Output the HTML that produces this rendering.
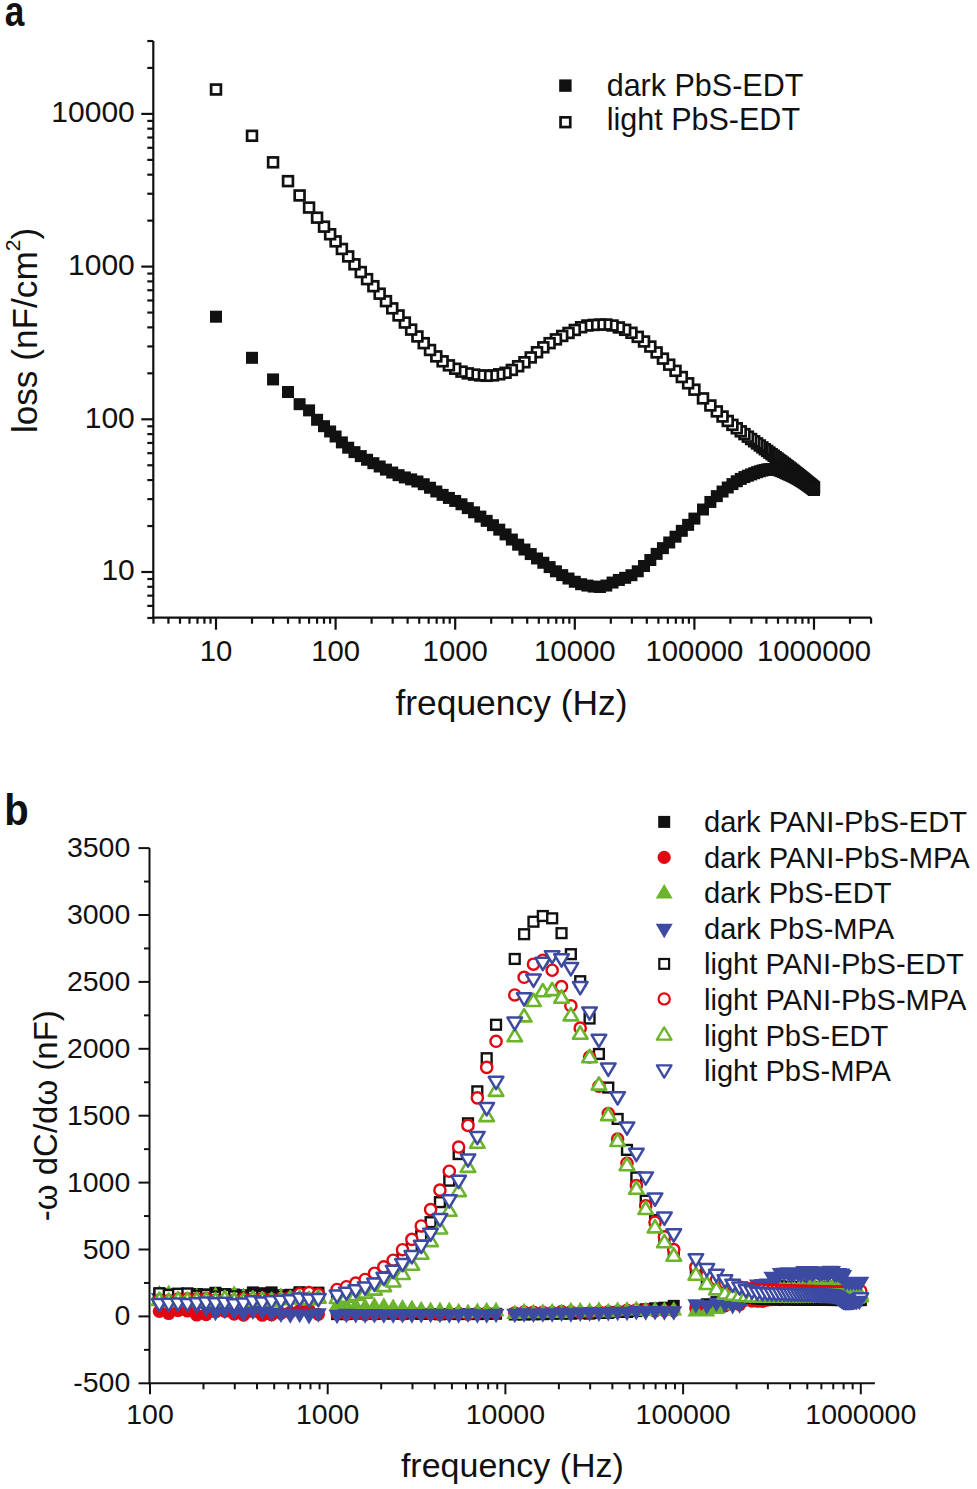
<!DOCTYPE html>
<html><head><meta charset="utf-8"><style>
html,body{margin:0;padding:0;background:#fff;width:977px;height:1489px;overflow:hidden}
svg{display:block}
</style></head><body>
<svg width="977" height="1489" viewBox="0 0 977 1489">
<rect width="977" height="1489" fill="#fff"/>
<g stroke="#111" stroke-width="2.2" fill="none" stroke-linecap="butt">
<path d="M153.3 41.04 V618.8"/>
<path d="M152.2 617.7 H871.06"/>
<path d="M153.3 617.97 H147.3"/>
<path d="M153.3 605.88 H147.3"/>
<path d="M153.3 595.65 H147.3"/>
<path d="M153.3 586.8 H147.3"/>
<path d="M153.3 578.99 H147.3"/>
<path d="M153.3 572 H141.3"/>
<path d="M153.3 526.03 H147.3"/>
<path d="M153.3 499.14 H147.3"/>
<path d="M153.3 480.07 H147.3"/>
<path d="M153.3 465.27 H147.3"/>
<path d="M153.3 453.18 H147.3"/>
<path d="M153.3 442.95 H147.3"/>
<path d="M153.3 434.1 H147.3"/>
<path d="M153.3 426.29 H147.3"/>
<path d="M153.3 419.3 H141.3"/>
<path d="M153.3 373.33 H147.3"/>
<path d="M153.3 346.44 H147.3"/>
<path d="M153.3 327.37 H147.3"/>
<path d="M153.3 312.57 H147.3"/>
<path d="M153.3 300.48 H147.3"/>
<path d="M153.3 290.25 H147.3"/>
<path d="M153.3 281.4 H147.3"/>
<path d="M153.3 273.59 H147.3"/>
<path d="M153.3 266.6 H141.3"/>
<path d="M153.3 220.63 H147.3"/>
<path d="M153.3 193.74 H147.3"/>
<path d="M153.3 174.67 H147.3"/>
<path d="M153.3 159.87 H147.3"/>
<path d="M153.3 147.78 H147.3"/>
<path d="M153.3 137.55 H147.3"/>
<path d="M153.3 128.7 H147.3"/>
<path d="M153.3 120.89 H147.3"/>
<path d="M153.3 113.9 H141.3"/>
<path d="M153.3 67.93 H147.3"/>
<path d="M153.3 41.04 H147.3"/>
<path d="M153.46 617.7 V623.7"/>
<path d="M168.41 617.7 V623.7"/>
<path d="M180 617.7 V623.7"/>
<path d="M189.47 617.7 V623.7"/>
<path d="M197.47 617.7 V623.7"/>
<path d="M204.41 617.7 V623.7"/>
<path d="M210.53 617.7 V623.7"/>
<path d="M216 617.7 V629.7"/>
<path d="M252 617.7 V623.7"/>
<path d="M273.06 617.7 V623.7"/>
<path d="M288.01 617.7 V623.7"/>
<path d="M299.6 617.7 V623.7"/>
<path d="M309.07 617.7 V623.7"/>
<path d="M317.07 617.7 V623.7"/>
<path d="M324.01 617.7 V623.7"/>
<path d="M330.13 617.7 V623.7"/>
<path d="M335.6 617.7 V629.7"/>
<path d="M371.6 617.7 V623.7"/>
<path d="M392.66 617.7 V623.7"/>
<path d="M407.61 617.7 V623.7"/>
<path d="M419.2 617.7 V623.7"/>
<path d="M428.67 617.7 V623.7"/>
<path d="M436.67 617.7 V623.7"/>
<path d="M443.61 617.7 V623.7"/>
<path d="M449.73 617.7 V623.7"/>
<path d="M455.2 617.7 V629.7"/>
<path d="M491.2 617.7 V623.7"/>
<path d="M512.26 617.7 V623.7"/>
<path d="M527.21 617.7 V623.7"/>
<path d="M538.8 617.7 V623.7"/>
<path d="M548.27 617.7 V623.7"/>
<path d="M556.27 617.7 V623.7"/>
<path d="M563.21 617.7 V623.7"/>
<path d="M569.33 617.7 V623.7"/>
<path d="M574.8 617.7 V629.7"/>
<path d="M610.8 617.7 V623.7"/>
<path d="M631.86 617.7 V623.7"/>
<path d="M646.81 617.7 V623.7"/>
<path d="M658.4 617.7 V623.7"/>
<path d="M667.87 617.7 V623.7"/>
<path d="M675.87 617.7 V623.7"/>
<path d="M682.81 617.7 V623.7"/>
<path d="M688.93 617.7 V623.7"/>
<path d="M694.4 617.7 V629.7"/>
<path d="M730.4 617.7 V623.7"/>
<path d="M751.46 617.7 V623.7"/>
<path d="M766.41 617.7 V623.7"/>
<path d="M778 617.7 V623.7"/>
<path d="M787.47 617.7 V623.7"/>
<path d="M795.47 617.7 V623.7"/>
<path d="M802.41 617.7 V623.7"/>
<path d="M808.53 617.7 V623.7"/>
<path d="M814 617.7 V629.7"/>
<path d="M850 617.7 V623.7"/>
<path d="M871.06 617.7 V623.7"/>
</g>
<g font-family='"Liberation Sans", sans-serif' font-size="30" fill="#111">
<text x="134.8" y="580.4" text-anchor="end">10</text>
<text x="134.8" y="427.7" text-anchor="end">100</text>
<text x="134.8" y="275" text-anchor="end">1000</text>
<text x="134.8" y="122.3" text-anchor="end">10000</text>
<text x="216" y="660.5" text-anchor="middle" font-size="29.3">10</text>
<text x="335.6" y="660.5" text-anchor="middle" font-size="29.3">100</text>
<text x="455.2" y="660.5" text-anchor="middle" font-size="29.3">1000</text>
<text x="574.8" y="660.5" text-anchor="middle" font-size="29.3">10000</text>
<text x="694.4" y="660.5" text-anchor="middle" font-size="29.3">100000</text>
<text x="814" y="660.5" text-anchor="middle" font-size="29.3">1000000</text>
</g>
<text x="511.5" y="714.6" text-anchor="middle" font-family='"Liberation Sans", sans-serif' font-size="35.4" fill="#111">frequency (Hz)</text>
<text transform="translate(36.6 330.5) rotate(-90)" text-anchor="middle" font-family='"Liberation Sans", sans-serif' font-size="35.2" fill="#111">loss (nF/cm<tspan font-size="21" dy="-17">2</tspan><tspan dy="17">)</tspan></text>
<text transform="translate(4.7 26.1) scale(0.82 1)" font-family='"Liberation Sans", sans-serif' font-size="43" font-weight="bold" fill="#111">a</text>
<text transform="translate(4.3 824.8) scale(0.89 1)" font-family='"Liberation Sans", sans-serif' font-size="45" font-weight="bold" fill="#111">b</text>
<rect x="559.8" y="80" width="11.2" height="11.2" fill="#111" stroke="#111" stroke-width="1.2"/>
<rect x="560.55" y="117.35" width="9.7" height="9.7" fill="#fff" stroke="#111" stroke-width="2.7"/>
<g font-family='"Liberation Sans", sans-serif' font-size="30.5" fill="#111">
<text x="606.7" y="95.8">dark PbS-EDT</text>
<text x="606.8" y="130.2">light PbS-EDT</text>
</g>
<g stroke="#111" stroke-width="2.0" fill="none">
<path d="M149.5 848.1 V1384.3"/>
<path d="M148.5 1383.3 H874.87"/>
<path d="M149.5 1383.3 H138.5"/>
<path d="M149.5 1349.85 H144"/>
<path d="M149.5 1316.4 H138.5"/>
<path d="M149.5 1282.95 H144"/>
<path d="M149.5 1249.5 H138.5"/>
<path d="M149.5 1216.05 H144"/>
<path d="M149.5 1182.6 H138.5"/>
<path d="M149.5 1149.15 H144"/>
<path d="M149.5 1115.7 H138.5"/>
<path d="M149.5 1082.25 H144"/>
<path d="M149.5 1048.8 H138.5"/>
<path d="M149.5 1015.35 H144"/>
<path d="M149.5 981.9 H138.5"/>
<path d="M149.5 948.45 H144"/>
<path d="M149.5 915 H138.5"/>
<path d="M149.5 881.55 H144"/>
<path d="M149.5 848.1 H138.5"/>
<path d="M150 1383.3 V1394.3"/>
<path d="M203.49 1383.3 V1389.3"/>
<path d="M234.78 1383.3 V1389.3"/>
<path d="M256.99 1383.3 V1389.3"/>
<path d="M274.21 1383.3 V1389.3"/>
<path d="M288.28 1383.3 V1389.3"/>
<path d="M300.17 1383.3 V1389.3"/>
<path d="M310.48 1383.3 V1389.3"/>
<path d="M319.57 1383.3 V1389.3"/>
<path d="M327.7 1383.3 V1394.3"/>
<path d="M381.19 1383.3 V1389.3"/>
<path d="M412.48 1383.3 V1389.3"/>
<path d="M434.69 1383.3 V1389.3"/>
<path d="M451.91 1383.3 V1389.3"/>
<path d="M465.98 1383.3 V1389.3"/>
<path d="M477.87 1383.3 V1389.3"/>
<path d="M488.18 1383.3 V1389.3"/>
<path d="M497.27 1383.3 V1389.3"/>
<path d="M505.4 1383.3 V1394.3"/>
<path d="M558.89 1383.3 V1389.3"/>
<path d="M590.18 1383.3 V1389.3"/>
<path d="M612.39 1383.3 V1389.3"/>
<path d="M629.61 1383.3 V1389.3"/>
<path d="M643.68 1383.3 V1389.3"/>
<path d="M655.57 1383.3 V1389.3"/>
<path d="M665.88 1383.3 V1389.3"/>
<path d="M674.97 1383.3 V1389.3"/>
<path d="M683.1 1383.3 V1394.3"/>
<path d="M736.59 1383.3 V1389.3"/>
<path d="M767.88 1383.3 V1389.3"/>
<path d="M790.09 1383.3 V1389.3"/>
<path d="M807.31 1383.3 V1389.3"/>
<path d="M821.38 1383.3 V1389.3"/>
<path d="M833.27 1383.3 V1389.3"/>
<path d="M843.58 1383.3 V1389.3"/>
<path d="M852.67 1383.3 V1389.3"/>
<path d="M860.8 1383.3 V1394.3"/>
</g>
<g font-family='"Liberation Sans", sans-serif' font-size="28.5" fill="#111">
<text x="130.3" y="1392.3" text-anchor="end">-500</text>
<text x="130.3" y="1325.4" text-anchor="end">0</text>
<text x="130.3" y="1258.5" text-anchor="end">500</text>
<text x="130.3" y="1191.6" text-anchor="end">1000</text>
<text x="130.3" y="1124.7" text-anchor="end">1500</text>
<text x="130.3" y="1057.8" text-anchor="end">2000</text>
<text x="130.3" y="990.9" text-anchor="end">2500</text>
<text x="130.3" y="924" text-anchor="end">3000</text>
<text x="130.3" y="857.1" text-anchor="end">3500</text>
<text x="150" y="1424.3" text-anchor="middle">100</text>
<text x="327.7" y="1424.3" text-anchor="middle">1000</text>
<text x="505.4" y="1424.3" text-anchor="middle">10000</text>
<text x="683.1" y="1424.3" text-anchor="middle">100000</text>
<text x="860.8" y="1424.3" text-anchor="middle">1000000</text>
</g>
<text x="512.4" y="1476.7" text-anchor="middle" font-family='"Liberation Sans", sans-serif' font-size="34" fill="#111">frequency (Hz)</text>
<text transform="translate(56.5 1115.7) rotate(-90)" text-anchor="middle" font-family='"Liberation Sans", sans-serif' font-size="33" fill="#111">-ω dC/dω (nF)</text>
<g fill="#fff" stroke="#111" stroke-width="2.7">
<rect x="809.10" y="482.60" width="9.8" height="9.8"/>
<rect x="808.16" y="481.81" width="9.8" height="9.8"/>
<rect x="807.20" y="481.01" width="9.8" height="9.8"/>
<rect x="806.22" y="480.19" width="9.8" height="9.8"/>
<rect x="805.22" y="479.36" width="9.8" height="9.8"/>
<rect x="804.20" y="478.52" width="9.8" height="9.8"/>
<rect x="803.16" y="477.66" width="9.8" height="9.8"/>
<rect x="802.10" y="476.79" width="9.8" height="9.8"/>
<rect x="801.02" y="475.90" width="9.8" height="9.8"/>
<rect x="799.92" y="475.00" width="9.8" height="9.8"/>
<rect x="798.79" y="474.08" width="9.8" height="9.8"/>
<rect x="797.64" y="473.14" width="9.8" height="9.8"/>
<rect x="796.46" y="472.18" width="9.8" height="9.8"/>
<rect x="795.25" y="471.20" width="9.8" height="9.8"/>
<rect x="794.02" y="470.21" width="9.8" height="9.8"/>
<rect x="792.75" y="469.19" width="9.8" height="9.8"/>
<rect x="791.46" y="468.16" width="9.8" height="9.8"/>
<rect x="790.13" y="467.10" width="9.8" height="9.8"/>
<rect x="788.76" y="466.02" width="9.8" height="9.8"/>
<rect x="787.36" y="464.91" width="9.8" height="9.8"/>
<rect x="785.92" y="463.78" width="9.8" height="9.8"/>
<rect x="784.44" y="462.63" width="9.8" height="9.8"/>
<rect x="782.91" y="461.45" width="9.8" height="9.8"/>
<rect x="781.34" y="460.24" width="9.8" height="9.8"/>
<rect x="779.72" y="459.00" width="9.8" height="9.8"/>
<rect x="778.05" y="457.74" width="9.8" height="9.8"/>
<rect x="776.32" y="456.44" width="9.8" height="9.8"/>
<rect x="774.53" y="455.10" width="9.8" height="9.8"/>
<rect x="772.68" y="453.72" width="9.8" height="9.8"/>
<rect x="770.76" y="452.30" width="9.8" height="9.8"/>
<rect x="768.77" y="450.83" width="9.8" height="9.8"/>
<rect x="766.69" y="449.30" width="9.8" height="9.8"/>
<rect x="764.53" y="447.72" width="9.8" height="9.8"/>
<rect x="762.28" y="446.06" width="9.8" height="9.8"/>
<rect x="759.92" y="444.32" width="9.8" height="9.8"/>
<rect x="757.46" y="442.50" width="9.8" height="9.8"/>
<rect x="754.87" y="440.57" width="9.8" height="9.8"/>
<rect x="752.14" y="438.53" width="9.8" height="9.8"/>
<rect x="749.26" y="436.39" width="9.8" height="9.8"/>
<rect x="746.22" y="434.14" width="9.8" height="9.8"/>
<rect x="742.98" y="431.76" width="9.8" height="9.8"/>
<rect x="739.53" y="429.21" width="9.8" height="9.8"/>
<rect x="735.83" y="426.44" width="9.8" height="9.8"/>
<rect x="731.85" y="423.38" width="9.8" height="9.8"/>
<rect x="727.54" y="419.96" width="9.8" height="9.8"/>
<rect x="722.84" y="416.06" width="9.8" height="9.8"/>
<rect x="717.67" y="411.62" width="9.8" height="9.8"/>
<rect x="711.93" y="406.51" width="9.8" height="9.8"/>
<rect x="705.47" y="400.58" width="9.8" height="9.8"/>
<rect x="698.10" y="393.49" width="9.8" height="9.8"/>
<rect x="689.50" y="384.78" width="9.8" height="9.8"/>
<rect x="683.21" y="378.40" width="9.8" height="9.8"/>
<rect x="676.91" y="372.15" width="9.8" height="9.8"/>
<rect x="670.62" y="365.94" width="9.8" height="9.8"/>
<rect x="664.32" y="359.79" width="9.8" height="9.8"/>
<rect x="658.03" y="353.72" width="9.8" height="9.8"/>
<rect x="651.73" y="347.53" width="9.8" height="9.8"/>
<rect x="645.44" y="341.66" width="9.8" height="9.8"/>
<rect x="639.14" y="336.61" width="9.8" height="9.8"/>
<rect x="632.85" y="331.94" width="9.8" height="9.8"/>
<rect x="626.55" y="327.87" width="9.8" height="9.8"/>
<rect x="620.26" y="324.92" width="9.8" height="9.8"/>
<rect x="613.96" y="322.55" width="9.8" height="9.8"/>
<rect x="607.67" y="320.61" width="9.8" height="9.8"/>
<rect x="601.37" y="319.63" width="9.8" height="9.8"/>
<rect x="595.08" y="319.69" width="9.8" height="9.8"/>
<rect x="588.78" y="320.03" width="9.8" height="9.8"/>
<rect x="582.49" y="320.60" width="9.8" height="9.8"/>
<rect x="576.19" y="322.33" width="9.8" height="9.8"/>
<rect x="569.90" y="325.04" width="9.8" height="9.8"/>
<rect x="563.61" y="328.03" width="9.8" height="9.8"/>
<rect x="557.31" y="331.05" width="9.8" height="9.8"/>
<rect x="551.02" y="334.49" width="9.8" height="9.8"/>
<rect x="544.72" y="338.26" width="9.8" height="9.8"/>
<rect x="538.43" y="342.41" width="9.8" height="9.8"/>
<rect x="532.13" y="347.33" width="9.8" height="9.8"/>
<rect x="525.84" y="352.53" width="9.8" height="9.8"/>
<rect x="519.54" y="357.36" width="9.8" height="9.8"/>
<rect x="513.25" y="361.33" width="9.8" height="9.8"/>
<rect x="506.95" y="365.02" width="9.8" height="9.8"/>
<rect x="500.66" y="367.88" width="9.8" height="9.8"/>
<rect x="494.36" y="369.40" width="9.8" height="9.8"/>
<rect x="488.07" y="370.49" width="9.8" height="9.8"/>
<rect x="481.77" y="370.90" width="9.8" height="9.8"/>
<rect x="475.48" y="370.54" width="9.8" height="9.8"/>
<rect x="469.18" y="369.67" width="9.8" height="9.8"/>
<rect x="462.89" y="368.47" width="9.8" height="9.8"/>
<rect x="456.59" y="366.73" width="9.8" height="9.8"/>
<rect x="450.30" y="363.82" width="9.8" height="9.8"/>
<rect x="444.01" y="360.45" width="9.8" height="9.8"/>
<rect x="437.71" y="356.41" width="9.8" height="9.8"/>
<rect x="431.42" y="351.50" width="9.8" height="9.8"/>
<rect x="425.12" y="345.10" width="9.8" height="9.8"/>
<rect x="418.83" y="338.27" width="9.8" height="9.8"/>
<rect x="412.53" y="331.56" width="9.8" height="9.8"/>
<rect x="406.24" y="324.71" width="9.8" height="9.8"/>
<rect x="399.94" y="317.66" width="9.8" height="9.8"/>
<rect x="393.65" y="310.53" width="9.8" height="9.8"/>
<rect x="387.35" y="303.44" width="9.8" height="9.8"/>
<rect x="381.06" y="296.25" width="9.8" height="9.8"/>
<rect x="374.76" y="288.78" width="9.8" height="9.8"/>
<rect x="368.47" y="281.31" width="9.8" height="9.8"/>
<rect x="362.17" y="274.25" width="9.8" height="9.8"/>
<rect x="355.88" y="267.15" width="9.8" height="9.8"/>
<rect x="349.58" y="259.42" width="9.8" height="9.8"/>
<rect x="343.29" y="251.53" width="9.8" height="9.8"/>
<rect x="336.99" y="244.05" width="9.8" height="9.8"/>
<rect x="330.70" y="236.47" width="9.8" height="9.8"/>
<rect x="325.23" y="229.35" width="9.8" height="9.8"/>
<rect x="319.11" y="221.77" width="9.8" height="9.8"/>
<rect x="312.17" y="212.75" width="9.8" height="9.8"/>
<rect x="304.17" y="202.66" width="9.8" height="9.8"/>
<rect x="294.70" y="190.55" width="9.8" height="9.8"/>
<rect x="283.11" y="176.23" width="9.8" height="9.8"/>
<rect x="268.16" y="157.43" width="9.8" height="9.8"/>
<rect x="247.10" y="130.89" width="9.8" height="9.8"/>
<rect x="211.10" y="84.60" width="9.8" height="9.8"/>
</g>
<g fill="#111">
<rect x="210.00" y="310.70" width="12" height="12"/>
<rect x="246.00" y="351.81" width="12" height="12"/>
<rect x="267.06" y="373.42" width="12" height="12"/>
<rect x="282.01" y="386.00" width="12" height="12"/>
<rect x="293.60" y="398.17" width="12" height="12"/>
<rect x="303.07" y="404.37" width="12" height="12"/>
<rect x="311.07" y="413.78" width="12" height="12"/>
<rect x="318.01" y="420.19" width="12" height="12"/>
<rect x="324.13" y="425.46" width="12" height="12"/>
<rect x="329.60" y="430.51" width="12" height="12"/>
<rect x="335.89" y="436.40" width="12" height="12"/>
<rect x="342.19" y="441.70" width="12" height="12"/>
<rect x="348.48" y="446.12" width="12" height="12"/>
<rect x="354.78" y="450.11" width="12" height="12"/>
<rect x="361.07" y="453.76" width="12" height="12"/>
<rect x="367.37" y="457.20" width="12" height="12"/>
<rect x="373.66" y="460.49" width="12" height="12"/>
<rect x="379.96" y="463.61" width="12" height="12"/>
<rect x="386.25" y="466.53" width="12" height="12"/>
<rect x="392.55" y="469.18" width="12" height="12"/>
<rect x="398.84" y="471.45" width="12" height="12"/>
<rect x="405.14" y="473.39" width="12" height="12"/>
<rect x="411.43" y="475.49" width="12" height="12"/>
<rect x="417.73" y="478.24" width="12" height="12"/>
<rect x="424.02" y="481.75" width="12" height="12"/>
<rect x="430.32" y="485.48" width="12" height="12"/>
<rect x="436.61" y="488.88" width="12" height="12"/>
<rect x="442.91" y="491.92" width="12" height="12"/>
<rect x="449.20" y="494.94" width="12" height="12"/>
<rect x="455.49" y="498.28" width="12" height="12"/>
<rect x="461.79" y="502.13" width="12" height="12"/>
<rect x="468.08" y="506.32" width="12" height="12"/>
<rect x="474.38" y="510.61" width="12" height="12"/>
<rect x="480.67" y="514.86" width="12" height="12"/>
<rect x="486.97" y="519.18" width="12" height="12"/>
<rect x="493.26" y="523.66" width="12" height="12"/>
<rect x="499.56" y="528.42" width="12" height="12"/>
<rect x="505.85" y="533.54" width="12" height="12"/>
<rect x="512.15" y="538.69" width="12" height="12"/>
<rect x="518.44" y="543.52" width="12" height="12"/>
<rect x="524.74" y="548.07" width="12" height="12"/>
<rect x="531.03" y="552.47" width="12" height="12"/>
<rect x="537.33" y="556.76" width="12" height="12"/>
<rect x="543.62" y="561.09" width="12" height="12"/>
<rect x="549.92" y="565.31" width="12" height="12"/>
<rect x="556.21" y="569.11" width="12" height="12"/>
<rect x="562.51" y="572.52" width="12" height="12"/>
<rect x="568.80" y="575.76" width="12" height="12"/>
<rect x="575.09" y="578.23" width="12" height="12"/>
<rect x="581.39" y="579.59" width="12" height="12"/>
<rect x="587.68" y="580.58" width="12" height="12"/>
<rect x="593.98" y="581.00" width="12" height="12"/>
<rect x="600.27" y="579.57" width="12" height="12"/>
<rect x="606.57" y="576.55" width="12" height="12"/>
<rect x="612.86" y="573.95" width="12" height="12"/>
<rect x="619.16" y="571.82" width="12" height="12"/>
<rect x="625.45" y="569.22" width="12" height="12"/>
<rect x="631.75" y="565.28" width="12" height="12"/>
<rect x="638.04" y="560.00" width="12" height="12"/>
<rect x="644.34" y="554.01" width="12" height="12"/>
<rect x="650.63" y="547.89" width="12" height="12"/>
<rect x="656.93" y="542.15" width="12" height="12"/>
<rect x="663.22" y="536.47" width="12" height="12"/>
<rect x="669.52" y="530.69" width="12" height="12"/>
<rect x="675.81" y="524.82" width="12" height="12"/>
<rect x="682.11" y="518.86" width="12" height="12"/>
<rect x="688.40" y="512.59" width="12" height="12"/>
<rect x="697.00" y="503.51" width="12" height="12"/>
<rect x="704.37" y="495.96" width="12" height="12"/>
<rect x="710.83" y="490.13" width="12" height="12"/>
<rect x="716.57" y="485.53" width="12" height="12"/>
<rect x="721.74" y="481.51" width="12" height="12"/>
<rect x="726.44" y="478.09" width="12" height="12"/>
<rect x="730.75" y="475.23" width="12" height="12"/>
<rect x="734.73" y="472.90" width="12" height="12"/>
<rect x="738.43" y="471.08" width="12" height="12"/>
<rect x="741.88" y="469.68" width="12" height="12"/>
<rect x="745.12" y="468.40" width="12" height="12"/>
<rect x="748.16" y="467.22" width="12" height="12"/>
<rect x="751.04" y="466.16" width="12" height="12"/>
<rect x="753.77" y="465.26" width="12" height="12"/>
<rect x="756.36" y="464.51" width="12" height="12"/>
<rect x="758.82" y="463.92" width="12" height="12"/>
<rect x="761.18" y="463.49" width="12" height="12"/>
<rect x="763.43" y="463.22" width="12" height="12"/>
<rect x="765.59" y="463.10" width="12" height="12"/>
<rect x="767.67" y="463.18" width="12" height="12"/>
<rect x="769.66" y="463.48" width="12" height="12"/>
<rect x="771.58" y="463.96" width="12" height="12"/>
<rect x="773.43" y="464.57" width="12" height="12"/>
<rect x="775.22" y="465.25" width="12" height="12"/>
<rect x="776.95" y="465.97" width="12" height="12"/>
<rect x="778.62" y="466.71" width="12" height="12"/>
<rect x="780.24" y="467.45" width="12" height="12"/>
<rect x="781.81" y="468.15" width="12" height="12"/>
<rect x="783.34" y="468.82" width="12" height="12"/>
<rect x="784.82" y="469.46" width="12" height="12"/>
<rect x="786.26" y="470.13" width="12" height="12"/>
<rect x="787.66" y="470.81" width="12" height="12"/>
<rect x="789.03" y="471.50" width="12" height="12"/>
<rect x="790.36" y="472.21" width="12" height="12"/>
<rect x="791.65" y="472.92" width="12" height="12"/>
<rect x="792.92" y="473.65" width="12" height="12"/>
<rect x="794.15" y="474.38" width="12" height="12"/>
<rect x="795.36" y="475.11" width="12" height="12"/>
<rect x="796.54" y="475.85" width="12" height="12"/>
<rect x="797.69" y="476.59" width="12" height="12"/>
<rect x="798.82" y="477.33" width="12" height="12"/>
<rect x="799.92" y="478.08" width="12" height="12"/>
<rect x="801.00" y="478.82" width="12" height="12"/>
<rect x="802.06" y="479.57" width="12" height="12"/>
<rect x="803.10" y="480.31" width="12" height="12"/>
<rect x="804.12" y="481.05" width="12" height="12"/>
<rect x="805.12" y="481.79" width="12" height="12"/>
<rect x="806.10" y="482.53" width="12" height="12"/>
<rect x="807.06" y="483.27" width="12" height="12"/>
<rect x="808.00" y="484.00" width="12" height="12"/>
</g>
<g fill="#111111">
<rect x="153.35" y="1287.81" width="12" height="12"/>
<rect x="162.71" y="1288.24" width="12" height="12"/>
<rect x="172.06" y="1289.70" width="12" height="12"/>
<rect x="181.41" y="1287.86" width="12" height="12"/>
<rect x="190.76" y="1288.03" width="12" height="12"/>
<rect x="200.12" y="1288.35" width="12" height="12"/>
<rect x="209.47" y="1286.74" width="12" height="12"/>
<rect x="218.82" y="1288.05" width="12" height="12"/>
<rect x="228.17" y="1288.52" width="12" height="12"/>
<rect x="237.53" y="1289.17" width="12" height="12"/>
<rect x="246.88" y="1286.38" width="12" height="12"/>
<rect x="256.23" y="1287.21" width="12" height="12"/>
<rect x="265.58" y="1286.36" width="12" height="12"/>
<rect x="274.94" y="1289.24" width="12" height="12"/>
<rect x="284.29" y="1288.77" width="12" height="12"/>
<rect x="293.64" y="1286.17" width="12" height="12"/>
<rect x="302.99" y="1289.93" width="12" height="12"/>
<rect x="312.35" y="1289.86" width="12" height="12"/>
<rect x="331.05" y="1308.15" width="12" height="12"/>
<rect x="340.41" y="1308.12" width="12" height="12"/>
<rect x="349.76" y="1307.66" width="12" height="12"/>
<rect x="359.11" y="1307.52" width="12" height="12"/>
<rect x="368.46" y="1308.03" width="12" height="12"/>
<rect x="377.82" y="1307.56" width="12" height="12"/>
<rect x="387.17" y="1307.69" width="12" height="12"/>
<rect x="396.52" y="1307.74" width="12" height="12"/>
<rect x="405.87" y="1307.53" width="12" height="12"/>
<rect x="415.23" y="1307.96" width="12" height="12"/>
<rect x="424.58" y="1307.94" width="12" height="12"/>
<rect x="433.93" y="1308.34" width="12" height="12"/>
<rect x="443.28" y="1308.02" width="12" height="12"/>
<rect x="452.64" y="1308.14" width="12" height="12"/>
<rect x="461.99" y="1308.00" width="12" height="12"/>
<rect x="471.34" y="1308.16" width="12" height="12"/>
<rect x="480.69" y="1307.96" width="12" height="12"/>
<rect x="490.05" y="1307.78" width="12" height="12"/>
<rect x="508.75" y="1308.50" width="12" height="12"/>
<rect x="518.11" y="1308.50" width="12" height="12"/>
<rect x="527.46" y="1308.34" width="12" height="12"/>
<rect x="536.81" y="1308.21" width="12" height="12"/>
<rect x="546.16" y="1307.82" width="12" height="12"/>
<rect x="555.52" y="1307.73" width="12" height="12"/>
<rect x="564.87" y="1307.70" width="12" height="12"/>
<rect x="574.22" y="1307.28" width="12" height="12"/>
<rect x="583.57" y="1307.67" width="12" height="12"/>
<rect x="592.93" y="1306.93" width="12" height="12"/>
<rect x="602.28" y="1306.94" width="12" height="12"/>
<rect x="611.63" y="1306.01" width="12" height="12"/>
<rect x="620.98" y="1306.02" width="12" height="12"/>
<rect x="630.34" y="1305.11" width="12" height="12"/>
<rect x="639.69" y="1303.25" width="12" height="12"/>
<rect x="649.04" y="1302.28" width="12" height="12"/>
<rect x="658.39" y="1301.68" width="12" height="12"/>
<rect x="667.75" y="1299.86" width="12" height="12"/>
<rect x="689.87" y="1300.92" width="12" height="12"/>
<rect x="700.83" y="1298.22" width="12" height="12"/>
<rect x="710.42" y="1296.09" width="12" height="12"/>
<rect x="718.95" y="1297.25" width="12" height="12"/>
<rect x="726.63" y="1296.55" width="12" height="12"/>
<rect x="733.62" y="1291.87" width="12" height="12"/>
<rect x="740.03" y="1288.10" width="12" height="12"/>
<rect x="745.94" y="1286.47" width="12" height="12"/>
<rect x="751.43" y="1286.14" width="12" height="12"/>
<rect x="756.56" y="1283.32" width="12" height="12"/>
<rect x="761.37" y="1280.47" width="12" height="12"/>
<rect x="765.89" y="1280.99" width="12" height="12"/>
<rect x="770.17" y="1280.40" width="12" height="12"/>
<rect x="774.22" y="1280.24" width="12" height="12"/>
<rect x="778.07" y="1283.19" width="12" height="12"/>
<rect x="781.74" y="1280.71" width="12" height="12"/>
<rect x="785.24" y="1282.24" width="12" height="12"/>
<rect x="788.58" y="1281.79" width="12" height="12"/>
<rect x="791.79" y="1280.76" width="12" height="12"/>
<rect x="794.87" y="1282.93" width="12" height="12"/>
<rect x="797.83" y="1280.52" width="12" height="12"/>
<rect x="800.69" y="1282.57" width="12" height="12"/>
<rect x="803.44" y="1280.47" width="12" height="12"/>
<rect x="806.09" y="1281.68" width="12" height="12"/>
<rect x="808.66" y="1280.85" width="12" height="12"/>
<rect x="811.15" y="1281.08" width="12" height="12"/>
<rect x="813.56" y="1283.88" width="12" height="12"/>
<rect x="815.89" y="1283.21" width="12" height="12"/>
<rect x="818.16" y="1281.22" width="12" height="12"/>
<rect x="820.36" y="1283.54" width="12" height="12"/>
<rect x="822.50" y="1280.84" width="12" height="12"/>
<rect x="824.58" y="1281.58" width="12" height="12"/>
<rect x="826.61" y="1283.42" width="12" height="12"/>
<rect x="828.59" y="1282.57" width="12" height="12"/>
<rect x="830.51" y="1280.40" width="12" height="12"/>
<rect x="832.39" y="1283.96" width="12" height="12"/>
<rect x="834.23" y="1280.85" width="12" height="12"/>
<rect x="836.02" y="1281.03" width="12" height="12"/>
<rect x="837.77" y="1283.09" width="12" height="12"/>
<rect x="839.48" y="1281.33" width="12" height="12"/>
<rect x="841.16" y="1281.47" width="12" height="12"/>
<rect x="842.80" y="1281.13" width="12" height="12"/>
<rect x="844.41" y="1281.96" width="12" height="12"/>
<rect x="845.98" y="1284.84" width="12" height="12"/>
<rect x="847.52" y="1284.49" width="12" height="12"/>
<rect x="849.03" y="1286.98" width="12" height="12"/>
<rect x="850.52" y="1287.12" width="12" height="12"/>
<rect x="851.97" y="1288.48" width="12" height="12"/>
<rect x="853.40" y="1291.46" width="12" height="12"/>
<rect x="854.80" y="1290.41" width="12" height="12"/>
</g>
<g fill="#e1060f">
<circle cx="159.35" cy="1311.40" r="6.6"/>
<circle cx="168.71" cy="1313.50" r="6.6"/>
<circle cx="178.06" cy="1310.68" r="6.6"/>
<circle cx="187.41" cy="1311.00" r="6.6"/>
<circle cx="196.76" cy="1315.02" r="6.6"/>
<circle cx="206.12" cy="1314.59" r="6.6"/>
<circle cx="215.47" cy="1311.75" r="6.6"/>
<circle cx="224.82" cy="1311.45" r="6.6"/>
<circle cx="234.17" cy="1314.20" r="6.6"/>
<circle cx="243.53" cy="1315.20" r="6.6"/>
<circle cx="252.88" cy="1311.48" r="6.6"/>
<circle cx="262.23" cy="1315.25" r="6.6"/>
<circle cx="271.58" cy="1314.85" r="6.6"/>
<circle cx="280.94" cy="1313.35" r="6.6"/>
<circle cx="290.29" cy="1312.27" r="6.6"/>
<circle cx="299.64" cy="1310.48" r="6.6"/>
<circle cx="308.99" cy="1309.92" r="6.6"/>
<circle cx="318.35" cy="1314.30" r="6.6"/>
<circle cx="337.05" cy="1313.47" r="6.6"/>
<circle cx="346.41" cy="1314.38" r="6.6"/>
<circle cx="355.76" cy="1313.46" r="6.6"/>
<circle cx="365.11" cy="1314.56" r="6.6"/>
<circle cx="374.46" cy="1314.08" r="6.6"/>
<circle cx="383.82" cy="1313.44" r="6.6"/>
<circle cx="393.17" cy="1313.18" r="6.6"/>
<circle cx="402.52" cy="1314.24" r="6.6"/>
<circle cx="411.87" cy="1312.91" r="6.6"/>
<circle cx="421.23" cy="1313.20" r="6.6"/>
<circle cx="430.58" cy="1313.84" r="6.6"/>
<circle cx="439.93" cy="1314.40" r="6.6"/>
<circle cx="449.28" cy="1313.89" r="6.6"/>
<circle cx="458.64" cy="1313.20" r="6.6"/>
<circle cx="467.99" cy="1314.44" r="6.6"/>
<circle cx="477.34" cy="1312.99" r="6.6"/>
<circle cx="486.69" cy="1312.59" r="6.6"/>
<circle cx="496.05" cy="1313.06" r="6.6"/>
<circle cx="514.75" cy="1312.88" r="6.6"/>
<circle cx="524.11" cy="1311.93" r="6.6"/>
<circle cx="533.46" cy="1311.99" r="6.6"/>
<circle cx="542.81" cy="1312.19" r="6.6"/>
<circle cx="552.16" cy="1312.42" r="6.6"/>
<circle cx="561.52" cy="1311.37" r="6.6"/>
<circle cx="570.87" cy="1311.65" r="6.6"/>
<circle cx="580.22" cy="1312.53" r="6.6"/>
<circle cx="589.57" cy="1312.54" r="6.6"/>
<circle cx="598.93" cy="1311.71" r="6.6"/>
<circle cx="608.28" cy="1311.60" r="6.6"/>
<circle cx="617.63" cy="1311.21" r="6.6"/>
<circle cx="626.98" cy="1310.15" r="6.6"/>
<circle cx="636.34" cy="1309.76" r="6.6"/>
<circle cx="645.69" cy="1309.55" r="6.6"/>
<circle cx="655.04" cy="1311.16" r="6.6"/>
<circle cx="664.39" cy="1310.56" r="6.6"/>
<circle cx="673.75" cy="1310.91" r="6.6"/>
<circle cx="695.87" cy="1308.07" r="6.6"/>
<circle cx="706.83" cy="1308.53" r="6.6"/>
<circle cx="716.42" cy="1306.22" r="6.6"/>
<circle cx="724.95" cy="1305.78" r="6.6"/>
<circle cx="732.63" cy="1302.91" r="6.6"/>
<circle cx="739.62" cy="1304.59" r="6.6"/>
<circle cx="746.03" cy="1300.00" r="6.6"/>
<circle cx="751.94" cy="1301.12" r="6.6"/>
<circle cx="757.43" cy="1301.23" r="6.6"/>
<circle cx="762.56" cy="1301.32" r="6.6"/>
<circle cx="767.37" cy="1300.16" r="6.6"/>
<circle cx="771.89" cy="1299.54" r="6.6"/>
<circle cx="776.17" cy="1299.46" r="6.6"/>
<circle cx="780.22" cy="1299.53" r="6.6"/>
<circle cx="784.07" cy="1296.89" r="6.6"/>
<circle cx="787.74" cy="1297.86" r="6.6"/>
<circle cx="791.24" cy="1298.38" r="6.6"/>
<circle cx="794.58" cy="1297.94" r="6.6"/>
<circle cx="797.79" cy="1295.82" r="6.6"/>
<circle cx="800.87" cy="1297.03" r="6.6"/>
<circle cx="803.83" cy="1297.06" r="6.6"/>
<circle cx="806.69" cy="1295.65" r="6.6"/>
<circle cx="809.44" cy="1295.62" r="6.6"/>
<circle cx="812.09" cy="1294.42" r="6.6"/>
<circle cx="814.66" cy="1295.02" r="6.6"/>
<circle cx="817.15" cy="1294.92" r="6.6"/>
<circle cx="819.56" cy="1292.62" r="6.6"/>
<circle cx="821.89" cy="1294.68" r="6.6"/>
<circle cx="824.16" cy="1295.93" r="6.6"/>
<circle cx="826.36" cy="1295.31" r="6.6"/>
<circle cx="828.50" cy="1294.56" r="6.6"/>
<circle cx="830.58" cy="1293.06" r="6.6"/>
<circle cx="832.61" cy="1294.31" r="6.6"/>
<circle cx="834.59" cy="1293.57" r="6.6"/>
<circle cx="836.51" cy="1292.89" r="6.6"/>
<circle cx="838.39" cy="1294.37" r="6.6"/>
<circle cx="840.23" cy="1291.24" r="6.6"/>
<circle cx="842.02" cy="1293.81" r="6.6"/>
<circle cx="843.77" cy="1290.83" r="6.6"/>
<circle cx="845.48" cy="1293.03" r="6.6"/>
<circle cx="847.16" cy="1292.46" r="6.6"/>
<circle cx="848.80" cy="1291.38" r="6.6"/>
<circle cx="850.41" cy="1293.18" r="6.6"/>
<circle cx="851.98" cy="1292.30" r="6.6"/>
<circle cx="853.52" cy="1292.70" r="6.6"/>
<circle cx="855.03" cy="1293.87" r="6.6"/>
<circle cx="856.52" cy="1291.15" r="6.6"/>
<circle cx="857.97" cy="1290.12" r="6.6"/>
<circle cx="859.40" cy="1291.22" r="6.6"/>
<circle cx="860.80" cy="1292.69" r="6.6"/>
</g>
<path fill="#6cb42c" d="M159.35 1284.78L167.85 1299.28L150.85 1299.28ZM168.71 1284.51L177.21 1299.01L160.21 1299.01ZM178.06 1291.93L186.56 1306.43L169.56 1306.43ZM187.41 1289.53L195.91 1304.03L178.91 1304.03ZM196.76 1287.41L205.26 1301.91L188.26 1301.91ZM206.12 1291.96L214.62 1306.46L197.62 1306.46ZM215.47 1286.37L223.97 1300.87L206.97 1300.87ZM224.82 1289.82L233.32 1304.32L216.32 1304.32ZM234.17 1285.21L242.67 1299.71L225.67 1299.71ZM243.53 1287.59L252.03 1302.09L235.03 1302.09ZM252.88 1291.40L261.38 1305.90L244.38 1305.90ZM262.23 1292.54L270.73 1307.04L253.73 1307.04ZM271.58 1292.26L280.08 1306.76L263.08 1306.76ZM280.94 1287.36L289.44 1301.86L272.44 1301.86ZM290.29 1289.41L298.79 1303.91L281.79 1303.91ZM299.64 1286.80L308.14 1301.30L291.14 1301.30ZM308.99 1285.06L317.49 1299.56L300.49 1299.56ZM318.35 1288.72L326.85 1303.22L309.85 1303.22ZM337.05 1296.46L345.55 1310.96L328.55 1310.96ZM346.41 1296.83L354.91 1311.33L337.91 1311.33ZM355.76 1296.96L364.26 1311.46L347.26 1311.46ZM365.11 1297.87L373.61 1312.37L356.61 1312.37ZM374.46 1297.01L382.96 1311.51L365.96 1311.51ZM383.82 1297.32L392.32 1311.82L375.32 1311.82ZM393.17 1298.55L401.67 1313.05L384.67 1313.05ZM402.52 1298.97L411.02 1313.47L394.02 1313.47ZM411.87 1299.60L420.37 1314.10L403.37 1314.10ZM421.23 1300.65L429.73 1315.15L412.73 1315.15ZM430.58 1301.52L439.08 1316.02L422.08 1316.02ZM439.93 1301.59L448.43 1316.09L431.43 1316.09ZM449.28 1301.54L457.78 1316.04L440.78 1316.04ZM458.64 1302.86L467.14 1317.36L450.14 1317.36ZM467.99 1303.39L476.49 1317.89L459.49 1317.89ZM477.34 1302.51L485.84 1317.01L468.84 1317.01ZM486.69 1301.86L495.19 1316.36L478.19 1316.36ZM496.05 1301.81L504.55 1316.31L487.55 1316.31ZM514.75 1304.48L523.25 1318.98L506.25 1318.98ZM524.11 1302.64L532.61 1317.14L515.61 1317.14ZM533.46 1303.80L541.96 1318.30L524.96 1318.30ZM542.81 1303.35L551.31 1317.85L534.31 1317.85ZM552.16 1302.65L560.66 1317.15L543.66 1317.15ZM561.52 1303.44L570.02 1317.94L553.02 1317.94ZM570.87 1301.72L579.37 1316.22L562.37 1316.22ZM580.22 1301.77L588.72 1316.27L571.72 1316.27ZM589.57 1302.23L598.07 1316.73L581.07 1316.73ZM598.93 1301.20L607.43 1315.70L590.43 1315.70ZM608.28 1302.63L616.78 1317.13L599.78 1317.13ZM617.63 1301.27L626.13 1315.77L609.13 1315.77ZM626.98 1300.90L635.48 1315.40L618.48 1315.40ZM636.34 1300.54L644.84 1315.04L627.84 1315.04ZM645.69 1301.52L654.19 1316.02L637.19 1316.02ZM655.04 1300.98L663.54 1315.48L646.54 1315.48ZM664.39 1301.17L672.89 1315.67L655.89 1315.67ZM673.75 1301.05L682.25 1315.55L665.25 1315.55ZM695.87 1301.98L704.37 1316.48L687.37 1316.48ZM706.83 1301.95L715.33 1316.45L698.33 1316.45ZM716.42 1299.42L724.92 1313.92L707.92 1313.92ZM724.95 1295.65L733.45 1310.15L716.45 1310.15ZM732.63 1294.77L741.13 1309.27L724.13 1309.27ZM739.62 1291.58L748.12 1306.08L731.12 1306.08ZM746.03 1287.38L754.53 1301.88L737.53 1301.88ZM751.94 1284.50L760.44 1299.00L743.44 1299.00ZM757.43 1282.17L765.93 1296.67L748.93 1296.67ZM762.56 1279.33L771.06 1293.83L754.06 1293.83ZM767.37 1279.45L775.87 1293.95L758.87 1293.95ZM771.89 1279.53L780.39 1294.03L763.39 1294.03ZM776.17 1280.76L784.67 1295.26L767.67 1295.26ZM780.22 1279.89L788.72 1294.39L771.72 1294.39ZM784.07 1280.13L792.57 1294.63L775.57 1294.63ZM787.74 1280.57L796.24 1295.07L779.24 1295.07ZM791.24 1279.01L799.74 1293.51L782.74 1293.51ZM794.58 1280.51L803.08 1295.01L786.08 1295.01ZM797.79 1280.89L806.29 1295.39L789.29 1295.39ZM800.87 1277.54L809.37 1292.04L792.37 1292.04ZM803.83 1280.86L812.33 1295.36L795.33 1295.36ZM806.69 1279.96L815.19 1294.46L798.19 1294.46ZM809.44 1277.54L817.94 1292.04L800.94 1292.04ZM812.09 1278.79L820.59 1293.29L803.59 1293.29ZM814.66 1279.44L823.16 1293.94L806.16 1293.94ZM817.15 1280.55L825.65 1295.05L808.65 1295.05ZM819.56 1278.39L828.06 1292.89L811.06 1292.89ZM821.89 1279.13L830.39 1293.63L813.39 1293.63ZM824.16 1280.35L832.66 1294.85L815.66 1294.85ZM826.36 1280.00L834.86 1294.50L817.86 1294.50ZM828.50 1280.58L837.00 1295.08L820.00 1295.08ZM830.58 1278.64L839.08 1293.14L822.08 1293.14ZM832.61 1279.38L841.11 1293.88L824.11 1293.88ZM834.59 1277.59L843.09 1292.09L826.09 1292.09ZM836.51 1279.65L845.01 1294.15L828.01 1294.15ZM838.39 1280.03L846.89 1294.53L829.89 1294.53ZM840.23 1279.32L848.73 1293.82L831.73 1293.82ZM842.02 1279.62L850.52 1294.12L833.52 1294.12ZM843.77 1277.60L852.27 1292.10L835.27 1292.10ZM845.48 1280.36L853.98 1294.86L836.98 1294.86ZM847.16 1280.89L855.66 1295.39L838.66 1295.39ZM848.80 1281.29L857.30 1295.79L840.30 1295.79ZM850.41 1280.10L858.91 1294.60L841.91 1294.60ZM851.98 1281.80L860.48 1296.30L843.48 1296.30ZM853.52 1280.67L862.02 1295.17L845.02 1295.17ZM855.03 1283.82L863.53 1298.32L846.53 1298.32ZM856.52 1284.40L865.02 1298.90L848.02 1298.90ZM857.97 1283.14L866.47 1297.64L849.47 1297.64ZM859.40 1282.80L867.90 1297.30L850.90 1297.30ZM860.80 1284.87L869.30 1299.37L852.30 1299.37Z"/>
<path fill="#3c4aa2" d="M150.85 1292.95L167.85 1292.95L159.35 1307.45ZM160.21 1294.02L177.21 1294.02L168.71 1308.52ZM169.56 1293.45L186.56 1293.45L178.06 1307.95ZM178.91 1292.54L195.91 1292.54L187.41 1307.04ZM188.26 1300.35L205.26 1300.35L196.76 1314.85ZM197.62 1303.11L214.62 1303.11L206.12 1317.61ZM206.97 1306.77L223.97 1306.77L215.47 1321.27ZM216.32 1304.72L233.32 1304.72L224.82 1319.22ZM225.67 1305.67L242.67 1305.67L234.17 1320.17ZM235.03 1307.72L252.03 1307.72L243.53 1322.22ZM244.38 1305.40L261.38 1305.40L252.88 1319.90ZM253.73 1305.71L270.73 1305.71L262.23 1320.21ZM263.08 1307.44L280.08 1307.44L271.58 1321.94ZM272.44 1308.50L289.44 1308.50L280.94 1323.00ZM281.79 1309.18L298.79 1309.18L290.29 1323.68ZM291.14 1308.76L308.14 1308.76L299.64 1323.26ZM300.49 1309.93L317.49 1309.93L308.99 1324.43ZM309.85 1308.22L326.85 1308.22L318.35 1322.72ZM328.55 1309.70L345.55 1309.70L337.05 1324.20ZM337.91 1308.80L354.91 1308.80L346.41 1323.30ZM347.26 1308.91L364.26 1308.91L355.76 1323.41ZM356.61 1309.19L373.61 1309.19L365.11 1323.69ZM365.96 1308.92L382.96 1308.92L374.46 1323.42ZM375.32 1309.33L392.32 1309.33L383.82 1323.83ZM384.67 1309.21L401.67 1309.21L393.17 1323.71ZM394.02 1309.06L411.02 1309.06L402.52 1323.56ZM403.37 1309.36L420.37 1309.36L411.87 1323.86ZM412.73 1309.04L429.73 1309.04L421.23 1323.54ZM422.08 1308.76L439.08 1308.76L430.58 1323.26ZM431.43 1308.80L448.43 1308.80L439.93 1323.30ZM440.78 1309.24L457.78 1309.24L449.28 1323.74ZM450.14 1309.26L467.14 1309.26L458.64 1323.76ZM459.49 1308.54L476.49 1308.54L467.99 1323.04ZM468.84 1309.16L485.84 1309.16L477.34 1323.66ZM478.19 1309.24L495.19 1309.24L486.69 1323.74ZM487.55 1308.77L504.55 1308.77L496.05 1323.27ZM506.25 1308.81L523.25 1308.81L514.75 1323.31ZM515.61 1308.26L532.61 1308.26L524.11 1322.76ZM524.96 1308.42L541.96 1308.42L533.46 1322.92ZM534.31 1308.21L551.31 1308.21L542.81 1322.71ZM543.66 1308.14L560.66 1308.14L552.16 1322.64ZM553.02 1307.38L570.02 1307.38L561.52 1321.88ZM562.37 1308.15L579.37 1308.15L570.87 1322.65ZM571.72 1307.52L588.72 1307.52L580.22 1322.02ZM581.07 1307.22L598.07 1307.22L589.57 1321.72ZM590.43 1307.45L607.43 1307.45L598.93 1321.95ZM599.78 1307.03L616.78 1307.03L608.28 1321.53ZM609.13 1306.79L626.13 1306.79L617.63 1321.29ZM618.48 1306.81L635.48 1306.81L626.98 1321.31ZM627.84 1306.01L644.84 1306.01L636.34 1320.51ZM637.19 1306.30L654.19 1306.30L645.69 1320.80ZM646.54 1306.00L663.54 1306.00L655.04 1320.50ZM655.89 1306.37L672.89 1306.37L664.39 1320.87ZM665.25 1306.16L682.25 1306.16L673.75 1320.66Z"/>
<path fill="#3c4aa2" d="M687.37 1299.37L704.37 1299.37L695.87 1313.87ZM698.33 1300.35L715.33 1300.35L706.83 1314.85ZM707.92 1297.67L724.92 1297.67L716.42 1312.17ZM716.45 1298.65L733.45 1298.65L724.95 1313.15ZM724.13 1299.90L741.13 1299.90L732.63 1314.40ZM731.12 1299.22L748.12 1299.22L739.62 1313.72ZM737.53 1292.74L754.53 1292.74L746.03 1307.24ZM743.44 1285.30L760.44 1285.30L751.94 1299.80ZM748.93 1279.61L765.93 1279.61L757.43 1294.11ZM754.06 1279.04L771.06 1279.04L762.56 1293.54ZM758.87 1278.42L775.87 1278.42L767.37 1292.92ZM763.39 1271.77L780.39 1271.77L771.89 1286.27ZM767.67 1273.96L784.67 1273.96L776.17 1288.46ZM771.72 1267.93L788.72 1267.93L780.22 1282.43ZM775.57 1267.81L792.57 1267.81L784.07 1282.31ZM779.24 1267.31L796.24 1267.31L787.74 1281.81ZM782.74 1269.82L799.74 1269.82L791.24 1284.32ZM786.08 1267.51L803.08 1267.51L794.58 1282.01ZM789.29 1267.60L806.29 1267.60L797.79 1282.10ZM792.37 1269.09L809.37 1269.09L800.87 1283.59ZM795.33 1265.91L812.33 1265.91L803.83 1280.41ZM798.19 1269.59L815.19 1269.59L806.69 1284.09ZM800.94 1265.88L817.94 1265.88L809.44 1280.38ZM803.59 1268.14L820.59 1268.14L812.09 1282.64ZM806.16 1266.53L823.16 1266.53L814.66 1281.03ZM808.65 1266.17L825.65 1266.17L817.15 1280.67ZM811.06 1268.12L828.06 1268.12L819.56 1282.62ZM813.39 1267.53L830.39 1267.53L821.89 1282.03ZM815.66 1267.13L832.66 1267.13L824.16 1281.63ZM817.86 1267.33L834.86 1267.33L826.36 1281.83ZM820.00 1268.00L837.00 1268.00L828.50 1282.50ZM822.08 1265.77L839.08 1265.77L830.58 1280.27ZM824.11 1266.02L841.11 1266.02L832.61 1280.52ZM826.09 1268.57L843.09 1268.57L834.59 1283.07ZM828.01 1268.60L845.01 1268.60L836.51 1283.10ZM829.89 1267.94L846.89 1267.94L838.39 1282.44ZM831.73 1269.86L848.73 1269.86L840.23 1284.36ZM833.52 1268.42L850.52 1268.42L842.02 1282.92ZM835.27 1269.89L852.27 1269.89L843.77 1284.39Z"/>
<g fill="#fff" stroke="#111111" stroke-width="2.4">
<rect x="154.45" y="1288.32" width="9.8" height="9.8"/>
<rect x="163.81" y="1289.97" width="9.8" height="9.8"/>
<rect x="173.16" y="1288.78" width="9.8" height="9.8"/>
<rect x="182.51" y="1288.53" width="9.8" height="9.8"/>
<rect x="191.86" y="1291.00" width="9.8" height="9.8"/>
<rect x="201.22" y="1290.09" width="9.8" height="9.8"/>
<rect x="210.57" y="1291.65" width="9.8" height="9.8"/>
<rect x="219.92" y="1290.16" width="9.8" height="9.8"/>
<rect x="229.27" y="1291.44" width="9.8" height="9.8"/>
<rect x="238.63" y="1292.59" width="9.8" height="9.8"/>
<rect x="247.98" y="1290.64" width="9.8" height="9.8"/>
<rect x="257.33" y="1291.03" width="9.8" height="9.8"/>
<rect x="266.68" y="1292.11" width="9.8" height="9.8"/>
<rect x="276.04" y="1292.24" width="9.8" height="9.8"/>
<rect x="285.39" y="1291.67" width="9.8" height="9.8"/>
<rect x="294.74" y="1288.20" width="9.8" height="9.8"/>
<rect x="304.09" y="1288.30" width="9.8" height="9.8"/>
<rect x="313.45" y="1287.83" width="9.8" height="9.8"/>
<rect x="332.15" y="1287.94" width="9.8" height="9.8"/>
<rect x="341.51" y="1285.83" width="9.8" height="9.8"/>
<rect x="350.86" y="1282.83" width="9.8" height="9.8"/>
<rect x="360.21" y="1278.49" width="9.8" height="9.8"/>
<rect x="369.56" y="1273.28" width="9.8" height="9.8"/>
<rect x="378.92" y="1267.80" width="9.8" height="9.8"/>
<rect x="388.27" y="1261.17" width="9.8" height="9.8"/>
<rect x="397.62" y="1252.41" width="9.8" height="9.8"/>
<rect x="406.97" y="1242.11" width="9.8" height="9.8"/>
<rect x="416.33" y="1230.96" width="9.8" height="9.8"/>
<rect x="425.68" y="1217.27" width="9.8" height="9.8"/>
<rect x="435.03" y="1197.25" width="9.8" height="9.8"/>
<rect x="444.38" y="1175.78" width="9.8" height="9.8"/>
<rect x="453.74" y="1149.18" width="9.8" height="9.8"/>
<rect x="463.09" y="1118.43" width="9.8" height="9.8"/>
<rect x="472.44" y="1086.42" width="9.8" height="9.8"/>
<rect x="481.79" y="1053.32" width="9.8" height="9.8"/>
<rect x="491.15" y="1019.85" width="9.8" height="9.8"/>
<rect x="509.85" y="954.05" width="9.8" height="9.8"/>
<rect x="519.21" y="929.30" width="9.8" height="9.8"/>
<rect x="528.56" y="916.80" width="9.8" height="9.8"/>
<rect x="537.91" y="911.11" width="9.8" height="9.8"/>
<rect x="547.26" y="913.42" width="9.8" height="9.8"/>
<rect x="556.62" y="928.26" width="9.8" height="9.8"/>
<rect x="565.97" y="949.27" width="9.8" height="9.8"/>
<rect x="575.32" y="976.30" width="9.8" height="9.8"/>
<rect x="584.67" y="1013.62" width="9.8" height="9.8"/>
<rect x="594.03" y="1049.05" width="9.8" height="9.8"/>
<rect x="603.38" y="1082.66" width="9.8" height="9.8"/>
<rect x="612.73" y="1114.04" width="9.8" height="9.8"/>
<rect x="622.08" y="1144.99" width="9.8" height="9.8"/>
<rect x="631.44" y="1172.54" width="9.8" height="9.8"/>
<rect x="640.79" y="1195.73" width="9.8" height="9.8"/>
<rect x="650.14" y="1215.19" width="9.8" height="9.8"/>
<rect x="659.49" y="1234.18" width="9.8" height="9.8"/>
<rect x="668.85" y="1248.85" width="9.8" height="9.8"/>
<rect x="690.97" y="1265.17" width="9.8" height="9.8"/>
<rect x="701.93" y="1274.59" width="9.8" height="9.8"/>
<rect x="711.52" y="1281.23" width="9.8" height="9.8"/>
<rect x="720.05" y="1285.50" width="9.8" height="9.8"/>
<rect x="727.73" y="1288.45" width="9.8" height="9.8"/>
<rect x="734.72" y="1290.22" width="9.8" height="9.8"/>
<rect x="741.13" y="1291.66" width="9.8" height="9.8"/>
<rect x="747.04" y="1292.78" width="9.8" height="9.8"/>
<rect x="752.53" y="1293.56" width="9.8" height="9.8"/>
<rect x="757.66" y="1294.00" width="9.8" height="9.8"/>
<rect x="762.47" y="1294.15" width="9.8" height="9.8"/>
<rect x="766.99" y="1294.25" width="9.8" height="9.8"/>
<rect x="771.27" y="1294.34" width="9.8" height="9.8"/>
<rect x="775.32" y="1294.42" width="9.8" height="9.8"/>
<rect x="779.17" y="1294.49" width="9.8" height="9.8"/>
<rect x="782.84" y="1294.55" width="9.8" height="9.8"/>
<rect x="786.34" y="1294.61" width="9.8" height="9.8"/>
<rect x="789.68" y="1294.66" width="9.8" height="9.8"/>
<rect x="792.89" y="1294.70" width="9.8" height="9.8"/>
<rect x="795.97" y="1294.74" width="9.8" height="9.8"/>
<rect x="798.93" y="1294.78" width="9.8" height="9.8"/>
<rect x="801.79" y="1294.82" width="9.8" height="9.8"/>
<rect x="804.54" y="1294.85" width="9.8" height="9.8"/>
<rect x="807.19" y="1294.87" width="9.8" height="9.8"/>
<rect x="809.76" y="1294.90" width="9.8" height="9.8"/>
<rect x="812.25" y="1294.92" width="9.8" height="9.8"/>
<rect x="814.66" y="1294.94" width="9.8" height="9.8"/>
<rect x="816.99" y="1294.96" width="9.8" height="9.8"/>
<rect x="819.26" y="1294.98" width="9.8" height="9.8"/>
<rect x="821.46" y="1294.99" width="9.8" height="9.8"/>
<rect x="823.60" y="1295.01" width="9.8" height="9.8"/>
<rect x="825.68" y="1295.02" width="9.8" height="9.8"/>
<rect x="827.71" y="1295.03" width="9.8" height="9.8"/>
<rect x="829.69" y="1295.04" width="9.8" height="9.8"/>
<rect x="831.61" y="1295.05" width="9.8" height="9.8"/>
<rect x="833.49" y="1295.06" width="9.8" height="9.8"/>
<rect x="835.33" y="1295.06" width="9.8" height="9.8"/>
<rect x="837.12" y="1295.07" width="9.8" height="9.8"/>
<rect x="838.87" y="1295.08" width="9.8" height="9.8"/>
<rect x="840.58" y="1295.08" width="9.8" height="9.8"/>
<rect x="842.26" y="1295.09" width="9.8" height="9.8"/>
<rect x="843.90" y="1295.09" width="9.8" height="9.8"/>
<rect x="845.51" y="1295.09" width="9.8" height="9.8"/>
<rect x="847.08" y="1295.09" width="9.8" height="9.8"/>
<rect x="848.62" y="1295.10" width="9.8" height="9.8"/>
<rect x="850.13" y="1295.10" width="9.8" height="9.8"/>
<rect x="851.62" y="1295.10" width="9.8" height="9.8"/>
<rect x="853.07" y="1295.10" width="9.8" height="9.8"/>
<rect x="854.50" y="1295.10" width="9.8" height="9.8"/>
<rect x="855.90" y="1295.10" width="9.8" height="9.8"/>
</g>
<g fill="#fff" stroke="#e1060f" stroke-width="2.4">
<circle cx="159.35" cy="1300.01" r="5.6"/>
<circle cx="168.71" cy="1300.56" r="5.6"/>
<circle cx="178.06" cy="1299.07" r="5.6"/>
<circle cx="187.41" cy="1298.71" r="5.6"/>
<circle cx="196.76" cy="1298.82" r="5.6"/>
<circle cx="206.12" cy="1298.61" r="5.6"/>
<circle cx="215.47" cy="1300.16" r="5.6"/>
<circle cx="224.82" cy="1300.04" r="5.6"/>
<circle cx="234.17" cy="1300.21" r="5.6"/>
<circle cx="243.53" cy="1298.94" r="5.6"/>
<circle cx="252.88" cy="1299.01" r="5.6"/>
<circle cx="262.23" cy="1298.49" r="5.6"/>
<circle cx="271.58" cy="1299.34" r="5.6"/>
<circle cx="280.94" cy="1298.56" r="5.6"/>
<circle cx="290.29" cy="1297.25" r="5.6"/>
<circle cx="299.64" cy="1293.77" r="5.6"/>
<circle cx="308.99" cy="1292.67" r="5.6"/>
<circle cx="318.35" cy="1294.32" r="5.6"/>
<circle cx="337.05" cy="1289.47" r="5.6"/>
<circle cx="346.41" cy="1286.72" r="5.6"/>
<circle cx="355.76" cy="1283.11" r="5.6"/>
<circle cx="365.11" cy="1279.48" r="5.6"/>
<circle cx="374.46" cy="1273.26" r="5.6"/>
<circle cx="383.82" cy="1266.92" r="5.6"/>
<circle cx="393.17" cy="1260.22" r="5.6"/>
<circle cx="402.52" cy="1249.71" r="5.6"/>
<circle cx="411.87" cy="1239.38" r="5.6"/>
<circle cx="421.23" cy="1225.96" r="5.6"/>
<circle cx="430.58" cy="1209.59" r="5.6"/>
<circle cx="439.93" cy="1190.13" r="5.6"/>
<circle cx="449.28" cy="1171.25" r="5.6"/>
<circle cx="458.64" cy="1147.03" r="5.6"/>
<circle cx="467.99" cy="1125.43" r="5.6"/>
<circle cx="477.34" cy="1097.85" r="5.6"/>
<circle cx="486.69" cy="1067.40" r="5.6"/>
<circle cx="496.05" cy="1041.30" r="5.6"/>
<circle cx="514.75" cy="994.96" r="5.6"/>
<circle cx="524.11" cy="977.29" r="5.6"/>
<circle cx="533.46" cy="964.18" r="5.6"/>
<circle cx="542.81" cy="960.25" r="5.6"/>
<circle cx="552.16" cy="970.24" r="5.6"/>
<circle cx="561.52" cy="986.67" r="5.6"/>
<circle cx="570.87" cy="1005.80" r="5.6"/>
<circle cx="580.22" cy="1028.17" r="5.6"/>
<circle cx="589.57" cy="1056.99" r="5.6"/>
<circle cx="598.93" cy="1086.29" r="5.6"/>
<circle cx="608.28" cy="1113.45" r="5.6"/>
<circle cx="617.63" cy="1139.05" r="5.6"/>
<circle cx="626.98" cy="1163.21" r="5.6"/>
<circle cx="636.34" cy="1185.54" r="5.6"/>
<circle cx="645.69" cy="1205.87" r="5.6"/>
<circle cx="655.04" cy="1222.14" r="5.6"/>
<circle cx="664.39" cy="1236.92" r="5.6"/>
<circle cx="673.75" cy="1249.55" r="5.6"/>
<circle cx="695.87" cy="1267.06" r="5.6"/>
<circle cx="706.83" cy="1275.28" r="5.6"/>
<circle cx="716.42" cy="1279.87" r="5.6"/>
<circle cx="724.95" cy="1283.10" r="5.6"/>
<circle cx="732.63" cy="1285.40" r="5.6"/>
<circle cx="739.62" cy="1286.93" r="5.6"/>
<circle cx="746.03" cy="1287.99" r="5.6"/>
<circle cx="751.94" cy="1288.82" r="5.6"/>
<circle cx="757.43" cy="1289.44" r="5.6"/>
<circle cx="762.56" cy="1289.86" r="5.6"/>
<circle cx="767.37" cy="1290.11" r="5.6"/>
<circle cx="771.89" cy="1290.28" r="5.6"/>
<circle cx="776.17" cy="1290.42" r="5.6"/>
<circle cx="780.22" cy="1290.54" r="5.6"/>
<circle cx="784.07" cy="1290.63" r="5.6"/>
<circle cx="787.74" cy="1290.71" r="5.6"/>
<circle cx="791.24" cy="1290.79" r="5.6"/>
<circle cx="794.58" cy="1290.87" r="5.6"/>
<circle cx="797.79" cy="1290.94" r="5.6"/>
<circle cx="800.87" cy="1291.02" r="5.6"/>
<circle cx="803.83" cy="1291.11" r="5.6"/>
<circle cx="806.69" cy="1291.20" r="5.6"/>
<circle cx="809.44" cy="1291.29" r="5.6"/>
<circle cx="812.09" cy="1291.38" r="5.6"/>
<circle cx="814.66" cy="1291.46" r="5.6"/>
<circle cx="817.15" cy="1291.54" r="5.6"/>
<circle cx="819.56" cy="1291.62" r="5.6"/>
<circle cx="821.89" cy="1291.69" r="5.6"/>
<circle cx="824.16" cy="1291.75" r="5.6"/>
<circle cx="826.36" cy="1291.81" r="5.6"/>
<circle cx="828.50" cy="1291.86" r="5.6"/>
<circle cx="830.58" cy="1291.91" r="5.6"/>
<circle cx="832.61" cy="1291.94" r="5.6"/>
<circle cx="834.59" cy="1291.97" r="5.6"/>
<circle cx="836.51" cy="1291.99" r="5.6"/>
<circle cx="838.39" cy="1292.00" r="5.6"/>
<circle cx="840.23" cy="1292.00" r="5.6"/>
<circle cx="842.02" cy="1291.99" r="5.6"/>
<circle cx="843.77" cy="1291.95" r="5.6"/>
<circle cx="845.48" cy="1291.90" r="5.6"/>
<circle cx="847.16" cy="1291.83" r="5.6"/>
<circle cx="848.80" cy="1291.75" r="5.6"/>
<circle cx="850.41" cy="1291.66" r="5.6"/>
<circle cx="851.98" cy="1291.57" r="5.6"/>
<circle cx="853.52" cy="1291.47" r="5.6"/>
<circle cx="855.03" cy="1291.36" r="5.6"/>
<circle cx="856.52" cy="1291.26" r="5.6"/>
<circle cx="857.97" cy="1291.15" r="5.6"/>
<circle cx="859.40" cy="1291.05" r="5.6"/>
<circle cx="860.80" cy="1290.94" r="5.6"/>
</g>
<g fill="#fff" stroke="#6cb42c" stroke-width="2.6" stroke-linejoin="round">
<path d="M159.35 1292.73L166.65 1305.03L152.05 1305.03Z"/>
<path d="M168.71 1293.58L176.01 1305.88L161.41 1305.88Z"/>
<path d="M178.06 1292.21L185.36 1304.51L170.76 1304.51Z"/>
<path d="M187.41 1292.57L194.71 1304.87L180.11 1304.87Z"/>
<path d="M196.76 1292.66L204.06 1304.96L189.46 1304.96Z"/>
<path d="M206.12 1292.34L213.42 1304.64L198.82 1304.64Z"/>
<path d="M215.47 1292.80L222.77 1305.10L208.17 1305.10Z"/>
<path d="M224.82 1290.98L232.12 1303.28L217.52 1303.28Z"/>
<path d="M234.17 1292.98L241.47 1305.28L226.87 1305.28Z"/>
<path d="M243.53 1293.35L250.83 1305.65L236.23 1305.65Z"/>
<path d="M252.88 1291.30L260.18 1303.60L245.58 1303.60Z"/>
<path d="M262.23 1292.06L269.53 1304.36L254.93 1304.36Z"/>
<path d="M271.58 1292.86L278.88 1305.16L264.28 1305.16Z"/>
<path d="M280.94 1291.80L288.24 1304.10L273.64 1304.10Z"/>
<path d="M290.29 1291.11L297.59 1303.41L282.99 1303.41Z"/>
<path d="M299.64 1290.96L306.94 1303.26L292.34 1303.26Z"/>
<path d="M308.99 1291.94L316.29 1304.24L301.69 1304.24Z"/>
<path d="M318.35 1290.39L325.65 1302.69L311.05 1302.69Z"/>
<path d="M337.05 1290.74L344.35 1303.04L329.75 1303.04Z"/>
<path d="M346.41 1289.45L353.71 1301.75L339.11 1301.75Z"/>
<path d="M355.76 1287.69L363.06 1299.99L348.46 1299.99Z"/>
<path d="M365.11 1285.33L372.41 1297.63L357.81 1297.63Z"/>
<path d="M374.46 1282.36L381.76 1294.66L367.16 1294.66Z"/>
<path d="M383.82 1278.85L391.12 1291.15L376.52 1291.15Z"/>
<path d="M393.17 1274.15L400.47 1286.45L385.87 1286.45Z"/>
<path d="M402.52 1266.66L409.82 1278.96L395.22 1278.96Z"/>
<path d="M411.87 1257.44L419.17 1269.74L404.57 1269.74Z"/>
<path d="M421.23 1246.48L428.53 1258.78L413.93 1258.78Z"/>
<path d="M430.58 1233.84L437.88 1246.14L423.28 1246.14Z"/>
<path d="M439.93 1221.14L447.23 1233.44L432.63 1233.44Z"/>
<path d="M449.28 1203.52L456.58 1215.82L441.98 1215.82Z"/>
<path d="M458.64 1183.83L465.94 1196.13L451.34 1196.13Z"/>
<path d="M467.99 1159.59L475.29 1171.89L460.69 1171.89Z"/>
<path d="M477.34 1135.52L484.64 1147.82L470.04 1147.82Z"/>
<path d="M486.69 1108.87L493.99 1121.17L479.39 1121.17Z"/>
<path d="M496.05 1083.62L503.35 1095.92L488.75 1095.92Z"/>
<path d="M514.75 1029.01L522.05 1041.31L507.45 1041.31Z"/>
<path d="M524.11 1009.09L531.41 1021.39L516.81 1021.39Z"/>
<path d="M533.46 993.77L540.76 1006.07L526.16 1006.07Z"/>
<path d="M542.81 984.02L550.11 996.32L535.51 996.32Z"/>
<path d="M552.16 982.79L559.46 995.09L544.86 995.09Z"/>
<path d="M561.52 990.45L568.82 1002.75L554.22 1002.75Z"/>
<path d="M570.87 1008.12L578.17 1020.42L563.57 1020.42Z"/>
<path d="M580.22 1026.46L587.52 1038.76L572.92 1038.76Z"/>
<path d="M589.57 1049.90L596.87 1062.20L582.27 1062.20Z"/>
<path d="M598.93 1077.29L606.23 1089.59L591.63 1089.59Z"/>
<path d="M608.28 1107.78L615.58 1120.08L600.98 1120.08Z"/>
<path d="M617.63 1133.71L624.93 1146.01L610.33 1146.01Z"/>
<path d="M626.98 1157.88L634.28 1170.18L619.68 1170.18Z"/>
<path d="M636.34 1181.50L643.64 1193.80L629.04 1193.80Z"/>
<path d="M645.69 1201.74L652.99 1214.04L638.39 1214.04Z"/>
<path d="M655.04 1220.10L662.34 1232.40L647.74 1232.40Z"/>
<path d="M664.39 1234.90L671.69 1247.20L657.09 1247.20Z"/>
<path d="M673.75 1248.42L681.05 1260.72L666.45 1260.72Z"/>
<path d="M695.87 1267.42L703.17 1279.72L688.57 1279.72Z"/>
<path d="M706.83 1276.68L714.13 1288.98L699.53 1288.98Z"/>
<path d="M716.42 1282.08L723.72 1294.38L709.12 1294.38Z"/>
<path d="M724.95 1286.28L732.25 1298.58L717.65 1298.58Z"/>
<path d="M732.63 1287.47L739.93 1299.77L725.33 1299.77Z"/>
<path d="M739.62 1288.30L746.92 1300.60L732.32 1300.60Z"/>
<path d="M746.03 1288.85L753.33 1301.15L738.73 1301.15Z"/>
<path d="M751.94 1289.18L759.24 1301.48L744.64 1301.48Z"/>
<path d="M757.43 1289.33L764.73 1301.63L750.13 1301.63Z"/>
<path d="M762.56 1289.35L769.86 1301.65L755.26 1301.65Z"/>
<path d="M767.37 1289.35L774.67 1301.65L760.07 1301.65Z"/>
<path d="M771.89 1289.35L779.19 1301.65L764.59 1301.65Z"/>
<path d="M776.17 1289.35L783.47 1301.65L768.87 1301.65Z"/>
<path d="M780.22 1289.35L787.52 1301.65L772.92 1301.65Z"/>
<path d="M784.07 1289.34L791.37 1301.64L776.77 1301.64Z"/>
<path d="M787.74 1289.34L795.04 1301.64L780.44 1301.64Z"/>
<path d="M791.24 1289.33L798.54 1301.63L783.94 1301.63Z"/>
<path d="M794.58 1289.33L801.88 1301.63L787.28 1301.63Z"/>
<path d="M797.79 1289.32L805.09 1301.62L790.49 1301.62Z"/>
<path d="M800.87 1289.32L808.17 1301.62L793.57 1301.62Z"/>
<path d="M803.83 1289.31L811.13 1301.61L796.53 1301.61Z"/>
<path d="M806.69 1289.30L813.99 1301.60L799.39 1301.60Z"/>
<path d="M809.44 1289.29L816.74 1301.59L802.14 1301.59Z"/>
<path d="M812.09 1289.28L819.39 1301.58L804.79 1301.58Z"/>
<path d="M814.66 1289.27L821.96 1301.57L807.36 1301.57Z"/>
<path d="M817.15 1289.26L824.45 1301.56L809.85 1301.56Z"/>
<path d="M819.56 1289.24L826.86 1301.54L812.26 1301.54Z"/>
<path d="M821.89 1289.23L829.19 1301.53L814.59 1301.53Z"/>
<path d="M824.16 1289.22L831.46 1301.52L816.86 1301.52Z"/>
<path d="M826.36 1289.20L833.66 1301.50L819.06 1301.50Z"/>
<path d="M828.50 1289.19L835.80 1301.49L821.20 1301.49Z"/>
<path d="M830.58 1289.17L837.88 1301.47L823.28 1301.47Z"/>
<path d="M832.61 1289.16L839.91 1301.46L825.31 1301.46Z"/>
<path d="M834.59 1289.14L841.89 1301.44L827.29 1301.44Z"/>
<path d="M836.51 1289.13L843.81 1301.43L829.21 1301.43Z"/>
<path d="M838.39 1289.11L845.69 1301.41L831.09 1301.41Z"/>
<path d="M840.23 1289.09L847.53 1301.39L832.93 1301.39Z"/>
<path d="M842.02 1289.07L849.32 1301.37L834.72 1301.37Z"/>
<path d="M843.77 1289.06L851.07 1301.36L836.47 1301.36Z"/>
<path d="M845.48 1289.04L852.78 1301.34L838.18 1301.34Z"/>
<path d="M847.16 1289.02L854.46 1301.32L839.86 1301.32Z"/>
<path d="M848.80 1289.00L856.10 1301.30L841.50 1301.30Z"/>
<path d="M850.41 1288.98L857.71 1301.28L843.11 1301.28Z"/>
<path d="M851.98 1288.96L859.28 1301.26L844.68 1301.26Z"/>
<path d="M853.52 1288.94L860.82 1301.24L846.22 1301.24Z"/>
<path d="M855.03 1288.92L862.33 1301.22L847.73 1301.22Z"/>
<path d="M856.52 1288.90L863.82 1301.20L849.22 1301.20Z"/>
<path d="M857.97 1288.88L865.27 1301.18L850.67 1301.18Z"/>
<path d="M859.40 1288.86L866.70 1301.16L852.10 1301.16Z"/>
<path d="M860.80 1288.84L868.10 1301.14L853.50 1301.14Z"/>
</g>
<g fill="#fff" stroke="#3c4aa2" stroke-width="2.5" stroke-linejoin="round">
<path d="M152.05 1299.03L166.65 1299.03L159.35 1311.33Z"/>
<path d="M161.41 1298.76L176.01 1298.76L168.71 1311.06Z"/>
<path d="M170.76 1298.46L185.36 1298.46L178.06 1310.76Z"/>
<path d="M180.11 1298.93L194.71 1298.93L187.41 1311.23Z"/>
<path d="M189.46 1298.24L204.06 1298.24L196.76 1310.54Z"/>
<path d="M198.82 1297.56L213.42 1297.56L206.12 1309.86Z"/>
<path d="M208.17 1298.15L222.77 1298.15L215.47 1310.45Z"/>
<path d="M217.52 1297.86L232.12 1297.86L224.82 1310.16Z"/>
<path d="M226.87 1299.26L241.47 1299.26L234.17 1311.56Z"/>
<path d="M236.23 1298.44L250.83 1298.44L243.53 1310.74Z"/>
<path d="M245.58 1296.29L260.18 1296.29L252.88 1308.59Z"/>
<path d="M254.93 1297.58L269.53 1297.58L262.23 1309.88Z"/>
<path d="M264.28 1296.36L278.88 1296.36L271.58 1308.66Z"/>
<path d="M273.64 1295.76L288.24 1295.76L280.94 1308.06Z"/>
<path d="M282.99 1295.28L297.59 1295.28L290.29 1307.58Z"/>
<path d="M292.34 1293.54L306.94 1293.54L299.64 1305.84Z"/>
<path d="M301.69 1294.51L316.29 1294.51L308.99 1306.81Z"/>
<path d="M311.05 1293.97L325.65 1293.97L318.35 1306.27Z"/>
<path d="M329.75 1290.53L344.35 1290.53L337.05 1302.83Z"/>
<path d="M339.11 1287.65L353.71 1287.65L346.41 1299.95Z"/>
<path d="M348.46 1285.20L363.06 1285.20L355.76 1297.50Z"/>
<path d="M357.81 1282.44L372.41 1282.44L365.11 1294.74Z"/>
<path d="M367.16 1278.57L381.76 1278.57L374.46 1290.87Z"/>
<path d="M376.52 1272.75L391.12 1272.75L383.82 1285.05Z"/>
<path d="M385.87 1265.86L400.47 1265.86L393.17 1278.16Z"/>
<path d="M395.22 1259.01L409.82 1259.01L402.52 1271.31Z"/>
<path d="M404.57 1251.12L419.17 1251.12L411.87 1263.42Z"/>
<path d="M413.93 1240.79L428.53 1240.79L421.23 1253.09Z"/>
<path d="M423.28 1228.64L437.88 1228.64L430.58 1240.94Z"/>
<path d="M432.63 1214.07L447.23 1214.07L439.93 1226.37Z"/>
<path d="M441.98 1195.36L456.58 1195.36L449.28 1207.66Z"/>
<path d="M451.34 1175.83L465.94 1175.83L458.64 1188.13Z"/>
<path d="M460.69 1154.41L475.29 1154.41L467.99 1166.71Z"/>
<path d="M470.04 1131.91L484.64 1131.91L477.34 1144.21Z"/>
<path d="M479.39 1103.02L493.99 1103.02L486.69 1115.32Z"/>
<path d="M488.75 1076.78L503.35 1076.78L496.05 1089.08Z"/>
<path d="M507.45 1017.52L522.05 1017.52L514.75 1029.82Z"/>
<path d="M516.81 993.23L531.41 993.23L524.11 1005.53Z"/>
<path d="M526.16 974.55L540.76 974.55L533.46 986.85Z"/>
<path d="M535.51 957.79L550.11 957.79L542.81 970.09Z"/>
<path d="M544.86 951.17L559.46 951.17L552.16 963.47Z"/>
<path d="M554.22 954.30L568.82 954.30L561.52 966.60Z"/>
<path d="M563.57 963.08L578.17 963.08L570.87 975.38Z"/>
<path d="M572.92 981.99L587.52 981.99L580.22 994.29Z"/>
<path d="M582.27 1007.40L596.87 1007.40L589.57 1019.70Z"/>
<path d="M591.63 1034.83L606.23 1034.83L598.93 1047.13Z"/>
<path d="M600.98 1063.62L615.58 1063.62L608.28 1075.92Z"/>
<path d="M610.33 1092.21L624.93 1092.21L617.63 1104.51Z"/>
<path d="M619.68 1122.41L634.28 1122.41L626.98 1134.71Z"/>
<path d="M629.04 1148.78L643.64 1148.78L636.34 1161.08Z"/>
<path d="M638.39 1172.40L652.99 1172.40L645.69 1184.70Z"/>
<path d="M647.74 1193.46L662.34 1193.46L655.04 1205.76Z"/>
<path d="M657.09 1212.60L671.69 1212.60L664.39 1224.90Z"/>
<path d="M666.45 1229.37L681.05 1229.37L673.75 1241.67Z"/>
<path d="M688.57 1254.23L703.17 1254.23L695.87 1266.53Z"/>
<path d="M699.53 1264.07L714.13 1264.07L706.83 1276.37Z"/>
<path d="M709.12 1269.77L723.72 1269.77L716.42 1282.07Z"/>
<path d="M717.65 1275.30L732.25 1275.30L724.95 1287.60Z"/>
<path d="M725.33 1279.69L739.93 1279.69L732.63 1291.99Z"/>
<path d="M732.32 1282.38L746.92 1282.38L739.62 1294.68Z"/>
<path d="M738.73 1285.01L753.33 1285.01L746.03 1297.31Z"/>
<path d="M744.64 1286.35L759.24 1286.35L751.94 1298.65Z"/>
<path d="M750.13 1287.63L764.73 1287.63L757.43 1299.93Z"/>
<path d="M755.26 1288.05L769.86 1288.05L762.56 1300.35Z"/>
<path d="M760.07 1288.26L774.67 1288.26L767.37 1300.56Z"/>
<path d="M764.59 1288.42L779.19 1288.42L771.89 1300.72Z"/>
<path d="M768.87 1288.53L783.47 1288.53L776.17 1300.83Z"/>
<path d="M772.92 1288.62L787.52 1288.62L780.22 1300.92Z"/>
<path d="M776.77 1288.68L791.37 1288.68L784.07 1300.98Z"/>
<path d="M780.44 1288.74L795.04 1288.74L787.74 1301.04Z"/>
<path d="M783.94 1288.79L798.54 1288.79L791.24 1301.09Z"/>
<path d="M787.28 1288.83L801.88 1288.83L794.58 1301.13Z"/>
<path d="M790.49 1288.88L805.09 1288.88L797.79 1301.18Z"/>
<path d="M793.57 1288.94L808.17 1288.94L800.87 1301.24Z"/>
<path d="M796.53 1289.00L811.13 1289.00L803.83 1301.30Z"/>
<path d="M799.39 1289.07L813.99 1289.07L806.69 1301.37Z"/>
<path d="M802.14 1289.15L816.74 1289.15L809.44 1301.45Z"/>
<path d="M804.79 1289.24L819.39 1289.24L812.09 1301.54Z"/>
<path d="M807.36 1289.34L821.96 1289.34L814.66 1301.64Z"/>
<path d="M809.85 1289.44L824.45 1289.44L817.15 1301.74Z"/>
<path d="M812.26 1289.55L826.86 1289.55L819.56 1301.85Z"/>
<path d="M814.59 1289.66L829.19 1289.66L821.89 1301.96Z"/>
<path d="M816.86 1289.79L831.46 1289.79L824.16 1302.09Z"/>
<path d="M819.06 1289.94L833.66 1289.94L826.36 1302.24Z"/>
<path d="M821.20 1290.11L835.80 1290.11L828.50 1302.41Z"/>
<path d="M823.28 1290.30L837.88 1290.30L830.58 1302.60Z"/>
<path d="M825.31 1290.53L839.91 1290.53L832.61 1302.83Z"/>
<path d="M827.29 1290.79L841.89 1290.79L834.59 1303.09Z"/>
<path d="M829.21 1291.38L843.81 1291.38L836.51 1303.68Z"/>
<path d="M831.09 1292.67L845.69 1292.67L838.39 1304.97Z"/>
<path d="M832.93 1294.23L847.53 1294.23L840.23 1306.53Z"/>
<path d="M834.72 1295.66L849.32 1295.66L842.02 1307.96Z"/>
<path d="M836.47 1296.62L851.07 1296.62L843.77 1308.92Z"/>
<path d="M838.18 1296.85L852.78 1296.85L845.48 1309.15Z"/>
<path d="M839.86 1296.84L854.46 1296.84L847.16 1309.14Z"/>
<path d="M841.50 1296.80L856.10 1296.80L848.80 1309.10Z"/>
<path d="M843.11 1296.71L857.71 1296.71L850.41 1309.01Z"/>
<path d="M844.68 1296.55L859.28 1296.55L851.98 1308.85Z"/>
<path d="M846.22 1296.30L860.82 1296.30L853.52 1308.60Z"/>
<path d="M847.73 1295.95L862.33 1295.95L855.03 1308.25Z"/>
<path d="M849.22 1295.49L863.82 1295.49L856.52 1307.79Z"/>
<path d="M850.67 1294.91L865.27 1294.91L857.97 1307.21Z"/>
<path d="M852.10 1294.20L866.70 1294.20L859.40 1306.50Z"/>
<path d="M853.50 1293.34L868.10 1293.34L860.80 1305.64Z"/>
</g>
<path fill="#3c4aa2" d="M836.98 1276.75L853.98 1276.75L845.48 1291.25ZM838.66 1295.75L855.66 1295.75L847.16 1310.25ZM840.30 1276.75L857.30 1276.75L848.80 1291.25ZM841.91 1295.75L858.91 1295.75L850.41 1310.25ZM843.48 1276.75L860.48 1276.75L851.98 1291.25ZM845.02 1295.75L862.02 1295.75L853.52 1310.25ZM846.53 1276.75L863.53 1276.75L855.03 1291.25ZM848.02 1295.75L865.02 1295.75L856.52 1310.25ZM849.47 1276.75L866.47 1276.75L857.97 1291.25ZM850.90 1295.75L867.90 1295.75L859.40 1310.25ZM852.30 1276.75L869.30 1276.75L860.80 1291.25Z"/>
<rect x="658.20" y="815.90" width="12" height="12" fill="#111111"/>
<circle cx="664.20" cy="857.40" r="6.6" fill="#e1060f"/>
<path fill="#6cb42c" d="M664.20 883.95L672.70 898.45L655.70 898.45Z"/>
<path fill="#3c4aa2" d="M655.70 923.75L672.70 923.75L664.20 938.25Z"/>
<rect x="659.30" y="959.00" width="9.8" height="9.8" fill="none" stroke="#111111" stroke-width="2.2"/>
<circle cx="664.20" cy="998.90" r="5.6" fill="none" stroke="#e1060f" stroke-width="2.2"/>
<path fill="none" stroke="#6cb42c" stroke-width="2.3" stroke-linejoin="round" d="M664.20 1027.35L671.50 1039.65L656.90 1039.65Z"/>
<path fill="none" stroke="#3c4aa2" stroke-width="2.3" stroke-linejoin="round" d="M656.90 1065.35L671.50 1065.35L664.20 1077.65Z"/>
<g font-family='"Liberation Sans", sans-serif' font-size="29.1" fill="#111">
<text x="704" y="832.00">dark PANI-PbS-EDT</text>
<text x="704" y="867.60">dark PANI-PbS-MPA</text>
<text x="704" y="903.20">dark PbS-EDT</text>
<text x="704" y="938.80">dark PbS-MPA</text>
<text x="704" y="974.40">light PANI-PbS-EDT</text>
<text x="704" y="1010.00">light PANI-PbS-MPA</text>
<text x="704" y="1045.60">light PbS-EDT</text>
<text x="704" y="1081.20">light PbS-MPA</text>
</g>
</svg></body></html>
